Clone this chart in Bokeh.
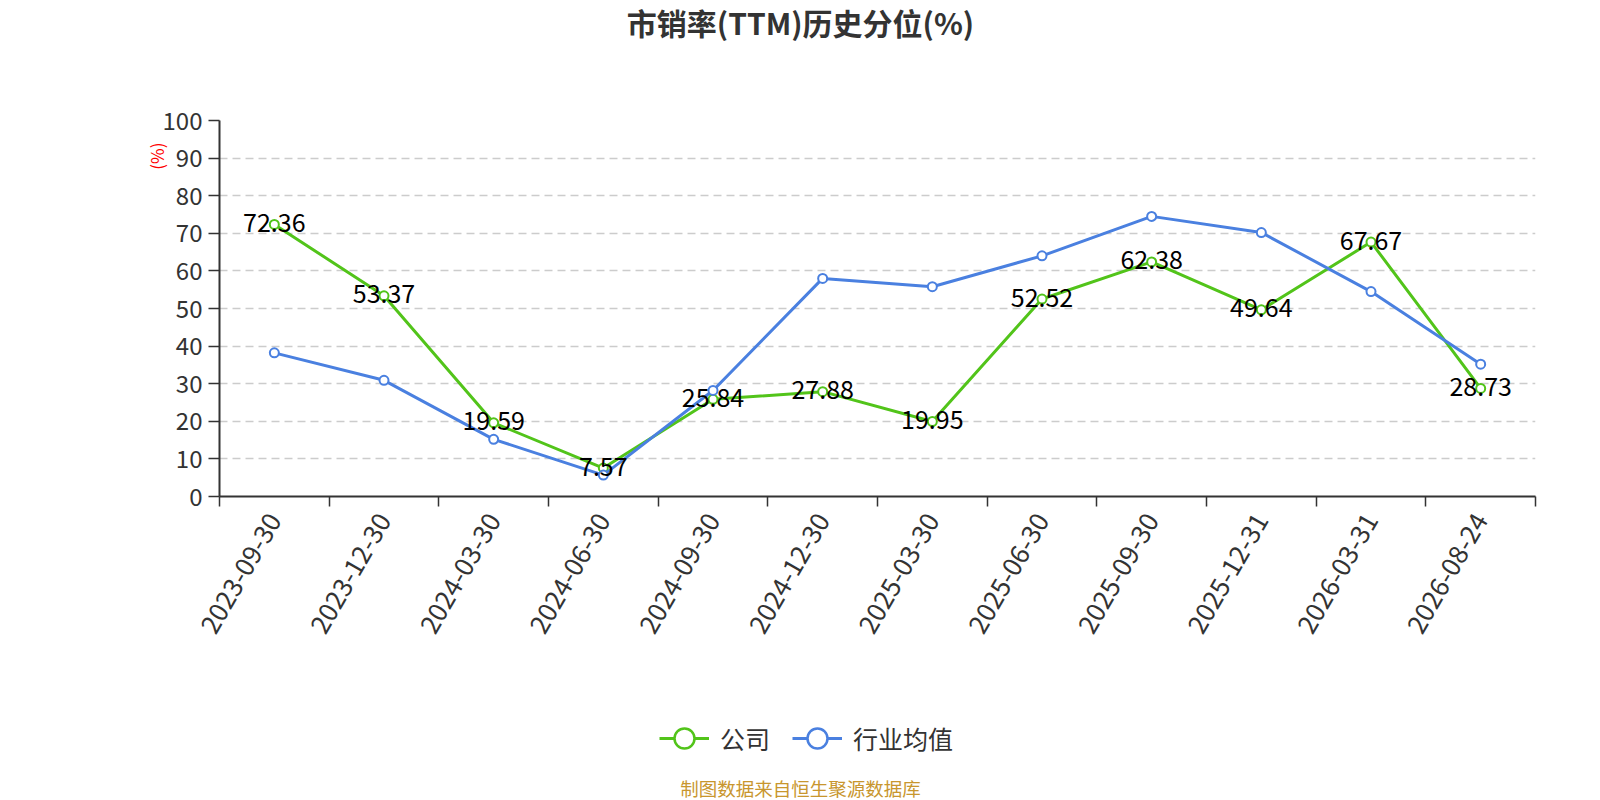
import math
from bokeh.plotting import figure
from bokeh.layouts import column
from bokeh.models import (Range1d, FixedTicker, Label, Legend, LegendItem, ColumnDataSource, Title)
from bokeh.core.properties import value
from bokeh.embed import file_html
from bokeh.resources import INLINE

dates = ["2023-09-30", "2023-12-30", "2024-03-30", "2024-06-30", "2024-09-30", "2024-12-30",
         "2025-03-30", "2025-06-30", "2025-09-30", "2025-12-31", "2026-03-31", "2026-08-24"]
company = [72.36, 53.37, 19.59, 7.57, 25.84, 27.88, 19.95, 52.52, 62.38, 49.64, 67.67, 28.73]
industry = [38.2, 30.9, 15.2, 5.7, 28.2, 58.0, 55.8, 64.0, 74.5, 70.2, 54.5, 35.2]
y_ticks = [0, 10, 20, 30, 40, 50, 60, 70, 80, 90, 100]
series_names = ["公司", "行业均值"]

title_text = "市销率(TTM)历史分位(%)"
unit_text = "(%)"
footer_text = "制图数据来自恒生聚源数据库"
GREEN = "#52c41a"
BLUE = "#4a80e0"
FONT = "Noto Sans CJK SC"
TXT = "#333333"

FW = 1316          # frame width shared by all stacked figures
BL, BR = 219, 49   # left / right borders

def strip(h):
    f = figure(frame_width=FW, frame_height=h, output_backend="svg", toolbar_location=None,
               x_range=Range1d(0, FW), y_range=Range1d(0, h),
               x_axis_type=None, y_axis_type=None,
               min_border_left=BL, min_border_right=BR, min_border_top=0, min_border_bottom=0)
    f.outline_line_color = None
    f.grid.visible = False
    return f

xs = [i + 0.5 for i in range(len(dates))]
src = ColumnDataSource(dict(x=xs, c=company, ind=industry,
                            lbl=["%.2f" % v for v in company]))

# ---------------- title strip ----------------
t = strip(100)
t.add_layout(Label(x=581, y=79, text=title_text, text_align="center", text_baseline="middle",
                   text_font=FONT, text_font_size="30px", text_font_style="bold",
                   text_color=TXT))

# ---------------- main chart ----------------
p = figure(frame_width=FW, frame_height=376, output_backend="svg", toolbar_location=None,
           title=None, x_range=Range1d(0, len(dates)), y_range=Range1d(0, 100),
           min_border_left=BL, min_border_right=BR, min_border_top=20, min_border_bottom=158)
p.outline_line_color = None

p.add_layout(Title(text=unit_text, align="right", offset=22, standoff=-18,
                   text_font=FONT, text_font_size="17px", text_font_style="normal",
                   text_color="#ff0000"), "left")

p.xaxis.ticker = FixedTicker(ticks=xs, minor_ticks=list(range(len(dates) + 1)))
p.xaxis.major_label_overrides = {x: d for x, d in zip(xs, dates)}
p.xaxis.major_tick_line_color = None
p.xaxis.minor_tick_line_color = TXT
p.xaxis.minor_tick_line_width = 1.5
p.xaxis.minor_tick_out = 10
p.xaxis.minor_tick_in = 0
p.xaxis.major_label_orientation = math.pi / 3
p.xaxis.major_label_text_font_size = "26px"
p.xaxis.major_label_text_color = TXT
p.xaxis.major_label_text_font = FONT
p.xaxis.major_label_standoff = 9
p.xaxis.axis_line_color = TXT
p.xaxis.axis_line_width = 2

p.yaxis.ticker = FixedTicker(ticks=y_ticks)
p.yaxis.major_tick_out = 11
p.yaxis.major_tick_in = 0
p.yaxis.minor_tick_line_color = None
p.yaxis.major_tick_line_color = TXT
p.yaxis.major_tick_line_width = 1.5
p.yaxis.axis_line_color = TXT
p.yaxis.axis_line_width = 2
p.yaxis.major_label_text_font_size = "24px"
p.yaxis.major_label_text_color = TXT
p.yaxis.major_label_text_font = FONT
p.yaxis.major_label_standoff = 6

p.xgrid.grid_line_color = None
p.ygrid.grid_line_color = "#cccccc"
p.ygrid.grid_line_dash = "8 5"
p.ygrid.grid_line_width = 1.5

p.line("x", "c", source=src, line_color=GREEN, line_width=3)
p.scatter("x", "c", source=src, size=9, fill_color="white", line_color=GREEN, line_width=2)
p.line("x", "ind", source=src, line_color=BLUE, line_width=3)
p.scatter("x", "ind", source=src, size=9, fill_color="white", line_color=BLUE, line_width=2)

p.text("x", "c", text="lbl", source=src, text_align="center", text_baseline="middle",
       text_font=value(FONT), text_font_size="25px", text_color="#000000", y_offset=-2)

# ---------------- legend + footer strip ----------------
q = strip(146)
hx, hy = [-100, -90], [-100, -100]
ql1 = q.line(hx, hy, line_color=GREEN, line_width=3)
qs1 = q.scatter(hx, hy, fill_color="white", line_color=GREEN, line_width=2.5)
ql2 = q.line(hx, hy, line_color=BLUE, line_width=3)
qs2 = q.scatter(hx, hy, fill_color="white", line_color=BLUE, line_width=2.5)
legend = Legend(items=[LegendItem(label=series_names[0], renderers=[ql1, qs1]),
                       LegendItem(label=series_names[1], renderers=[ql2, qs2])],
                orientation="horizontal", location=(440, 36),
                border_line_color=None, background_fill_alpha=0,
                label_text_font=FONT, label_text_font_size="25px", label_text_color=TXT,
                glyph_width=50, glyph_height=52, spacing=22, label_standoff=11,
                padding=0, margin=0)
q.add_layout(legend, "center")
q.add_layout(Label(x=581, y=13, text=footer_text, text_align="center", text_baseline="middle",
                   text_font=FONT, text_font_size="18.5px", text_color="#c8962e"))

open("out.html", "w").write(file_html(column(t, p, q, spacing=0), INLINE))
